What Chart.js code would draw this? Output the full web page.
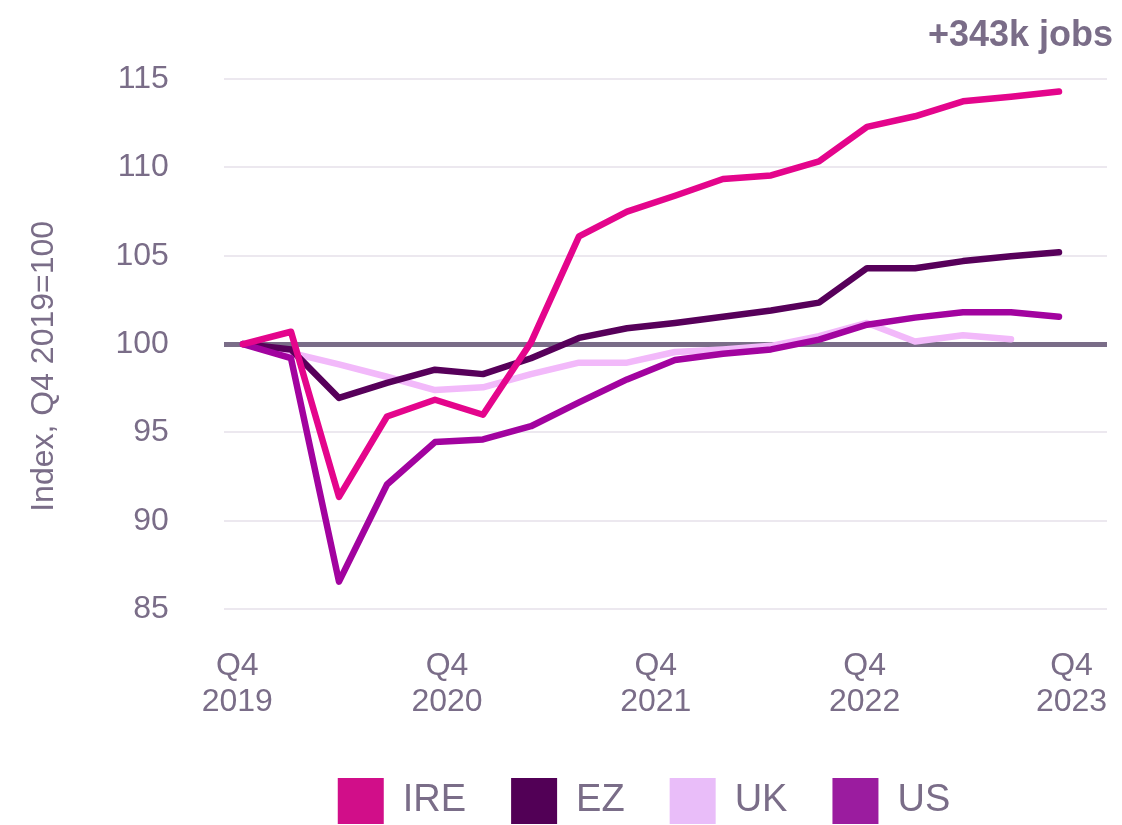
<!DOCTYPE html>
<html>
<head>
<meta charset="utf-8">
<script src="https://cdn.jsdelivr.net/npm/chart.js@4.4.1/dist/chart.umd.min.js"></script>
<style>
  html, body { margin: 0; padding: 0; background: #ffffff; }
  #wrap { width: 1122px; height: 825px; position: relative; }
</style>
</head>
<body>
<div id="wrap"><canvas id="c"></canvas></div>
<script>
// ---- data ----
const quarters = ['Q4 2019','Q1 2020','Q2 2020','Q3 2020','Q4 2020','Q1 2021','Q2 2021','Q3 2021','Q4 2021',
                  'Q1 2022','Q2 2022','Q3 2022','Q4 2022','Q1 2023','Q2 2023','Q3 2023','Q4 2023','Q1 2024'];
const ireValues = [100, 100.7, 91.35, 95.9, 96.85, 96.0, 100.1, 106.1, 107.5, 108.4, 109.35, 109.55, 110.35, 112.3, 112.9, 113.75, 114.0, 114.3];
const ezValues  = [100, 99.7, 96.95, 97.8, 98.55, 98.3, 99.2, 100.35, 100.9, 101.2, 101.55, 101.9, 102.35, 104.3, 104.3, 104.7, 104.97, 105.2];
const ukValues  = [100, 99.5, 98.85, 98.15, 97.4, 97.55, 98.3, 98.95, 98.95, 99.55, 99.7, 99.9, 100.45, 101.2, 100.15, 100.5, 100.27];
const usValues  = [100, 99.2, 86.55, 92.05, 94.45, 94.6, 95.35, 96.7, 98.0, 99.1, 99.45, 99.7, 100.25, 101.1, 101.5, 101.8, 101.8, 101.55];
const seriesNames = ['IRE', 'EZ', 'UK', 'US'];
const xTickValues = [-0.12, 4.25, 8.6, 12.95, 17.26];
const xTickLabels = [['Q4','2019'], ['Q4','2020'], ['Q4','2021'], ['Q4','2022'], ['Q4','2023']];
const yTickValues = [85, 90, 95, 100, 105, 110, 115];
const annotationText = '+343k jobs';
const yTitle = 'Index, Q4 2019=100';

// ---- styles ----
const textColor = '#7a6d88';
const FONT = "'Liberation Sans', Arial, Helvetica, sans-serif";
const toPoints = arr => arr.map((v, i) => ({ x: i, y: v }));

function ds(label, values, line, box, order) {
  return {
    label, data: toPoints(values),
    borderColor: line, backgroundColor: box,
    borderWidth: 6.5, pointRadius: 0, pointHoverRadius: 0,
    tension: 0, borderCapStyle: 'round', borderJoinStyle: 'round',
    fill: false, order
  };
}

const shiftPlugin = {
  id: 'shiftBlocks',
  afterLayout(chart) {
    const lg = chart.legend;
    if (lg) { lg.left += 78; lg.right += 78; lg.top += 9; lg.bottom += 9; }
    const tb = chart.titleBlock;
    if (tb) { tb.left += 6; tb.right += 6; }
  }
};

new Chart(document.getElementById('c'), {
  type: 'line',
  data: {
    labels: quarters,
    datasets: [
      ds(seriesNames[0], ireValues, '#e4058c', '#d10e89', 0),
      ds(seriesNames[1], ezValues,  '#57005a', '#520056', 2),
      ds(seriesNames[2], ukValues,  '#f2b9fa', '#e9bdf9', 3),
      ds(seriesNames[3], usValues,  '#a2039f', '#9b1c9f', 1)
    ]
  },
  options: {
    responsive: true,
    maintainAspectRatio: false,
    animation: false,
    layout: { padding: { left: 25, right: 15, top: 0, bottom: 0 } },
    plugins: {
      tooltip: { enabled: false },
      title: {
        display: true, text: annotationText, align: 'end', color: textColor,
        font: { family: FONT, size: 36, weight: 'bold' },
        padding: { top: 14, bottom: 22 }
      },
      legend: {
        position: 'bottom',
        labels: {
          color: textColor,
          font: { family: FONT, size: 38 },
          boxWidth: 46, boxHeight: 46, padding: 45,
          sort: (a, b) => a.datasetIndex - b.datasetIndex,
          generateLabels: (chart) => Chart.defaults.plugins.legend.labels.generateLabels(chart)
            .map(l => Object.assign(l, { lineWidth: 0, strokeStyle: 'rgba(0,0,0,0)' }))
        }
      }
    },
    scales: {
      x: {
        type: 'linear', min: -0.4, max: 18,
        grid: { display: true, drawOnChartArea: false, drawTicks: true, tickLength: 39,
                color: 'rgba(0,0,0,0)', tickColor: 'rgba(0,0,0,0)' },
        border: { display: false },
        afterBuildTicks: axis => { axis.ticks = xTickValues.map(v => ({ value: v })); },
        afterFit: scale => { scale.height += 4; },
        ticks: {
          autoSkip: false, maxRotation: 0, minRotation: 0, padding: 0,
          color: textColor,
          font: { family: FONT, size: 32, lineHeight: 1.125 },
          callback: (v, i) => xTickLabels[i]
        }
      },
      y: {
        min: 85, max: 115,
        afterBuildTicks: axis => { axis.ticks = yTickValues.map(v => ({ value: v })); },
        grid: {
          drawTicks: true, tickLength: 55, tickColor: 'rgba(0,0,0,0)',
          color: c => (c.tick && c.tick.value === 100) ? '#7a6d88' : '#ece8ef',
          lineWidth: c => (c.tick && c.tick.value === 100) ? 5 : 2
        },
        border: { display: false },
        ticks: {
          padding: 0, color: textColor,
          font: { family: FONT, size: 32 }
        },
        title: {
          display: true, text: yTitle + '     ', color: textColor,
          font: { family: FONT, size: 32, lineHeight: 1.2 },
          padding: { top: 0, bottom: 52 }
        }
      }
    }
  },
  plugins: [shiftPlugin]
});
</script>
</body>
</html>
